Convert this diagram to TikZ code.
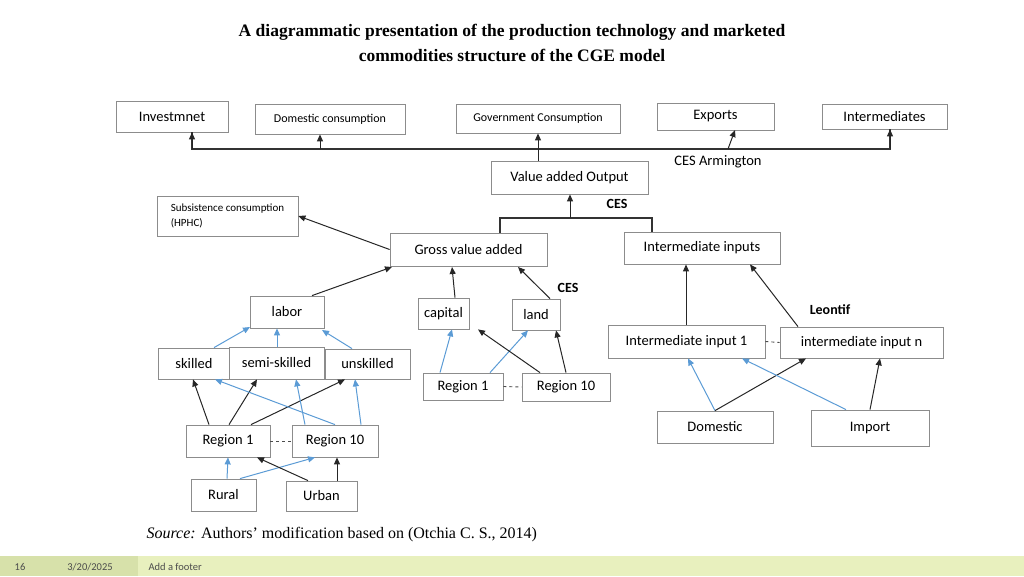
\documentclass[tikz,border=0pt]{standalone}
\usepackage{fontspec}
\setmainfont{Liberation Serif}
\newfontfamily\calib{Carlito}
\usetikzlibrary{arrows.meta}
\tikzset{
 bx/.style={draw=black!45, line width=0.8pt, fill=white, font=\calib\fontsize{14.5}{15}\selectfont, inner sep=0pt, align=left},
 ar/.style={-{Triangle[length=7pt,width=6pt]}, line width=1pt, black!85},
 bl/.style={-{Triangle[length=7pt,width=6pt]}, line width=1pt, color={rgb,255:red,91;green,155;blue,213}},
 dl/.style={dashed, line width=0.9pt, black!70},
 lbl/.style={font=\calib\bfseries\fontsize{14}{15}\selectfont}
}
\newcommand{\bxn}[6]{\node[bx, minimum width=#4-#2, minimum height=#5-#3] (#1) at ({(#2+#4)/2},{(#3+#5)/2}) {#6};}
\begin{document}
\begin{tikzpicture}[x=1pt,y=-1pt]
\useasboundingbox (0,0) rectangle (1024,576);
\fill[color={rgb,255:red,232;green,240;blue,190}] (0,556) rectangle (1024,576);
\fill[color={rgb,255:red,215;green,225;blue,170}] (0,556) rectangle (138,576);
\node[font=\calib\fontsize{10.5}{11}\selectfont, text=black!70] (pg) at (20,567) {16};
\node[font=\calib\fontsize{10.5}{11}\selectfont, text=black!70] (dt) at (90,567) {3/20/2025};
\node[font=\calib\fontsize{10.5}{11}\selectfont, text=black!70, anchor=west] (ft) at (145,567) {Add a footer};
\node[font=\bfseries\fontsize{17.5}{25}\selectfont, align=center] (title) at (512,43) {A diagrammatic presentation of the production technology and marketed\\commodities structure of the CGE model};
\node[font=\fontsize{16}{18}\selectfont, anchor=west] (src) at (143,535) {\textit{Source:} Authors’ modification based on (Otchia C. S., 2014)};
% top row
\bxn{inv}{116}{101}{228}{132}{Investmnet}
\bxn{dom}{255}{104}{405}{134}{\fontsize{12}{13}\selectfont Domestic consumption}
\bxn{gov}{456}{104}{620}{133}{\fontsize{12}{13}\selectfont Government Consumption}
\bxn{exp}{657}{103}{774}{130}{Exports}
\bxn{int}{822}{104}{947}{129}{Intermediates}
\bxn{vao}{491}{161}{648}{194}{Value added Output}
\bxn{sub}{157}{196}{298}{236}{\fontsize{11}{13}\selectfont Subsistence consumption\\\fontsize{11}{13}\selectfont (HPHC)}
\bxn{gva}{390}{233}{547}{266}{Gross value added}
\bxn{ii}{624}{232}{780}{264}{Intermediate inputs}
\node[font=\calib\fontsize{14.5}{15}\selectfont] (arm) at (718,162) {CES Armington};
\node[lbl] (ces1) at (617,204) {CES};
\node[lbl] (ces2) at (568,288) {CES};
\node[lbl] (leon) at (830,310) {Leontif};
\coordinate (bl) at (192,149); \coordinate (br) at (890,149);
\draw[line width=1.2pt, black!80] (inv.south -| bl) |- (br) -- (int.south -| br);
\draw[ar] (bl) -- (inv.south -| bl);
\draw[ar] (320,149) -- ([xshift=-10pt]dom.south);
\draw[ar] (vao.north -| gov.south) -- (gov.south);
\draw[ar] (728,149) -- (735,130);
\draw[ar] (br) -- (int.south -| br);
\coordinate (cb) at (570,218);
\draw[line width=1.2pt, black!80] (gva.north -| 500,0) |- (cb) -| (ii.north -| 652,0);
\draw[ar] (cb) -- (vao.south -| cb);
\draw[ar] (gva.west) -- (sub.east);
% labour block
\bxn{lab}{250}{296}{324}{328}{labor}
\bxn{cap}{418}{298}{469}{329}{capital}
\bxn{lnd}{512}{299}{560}{330}{land}
\draw[ar] (lab.north -| 312,0) -- (392,267);
\draw[ar] (cap.north -| 455,0) -- (452,267);
\draw[ar] (lnd.north -| 550,0) -- (518,267);
\bxn{sk}{158}{348}{230}{379}{skilled}
\bxn{uns}{325}{349}{410}{379}{unskilled}
\bxn{semi}{229}{347}{324}{379}{semi-skilled}
\draw[bl] (sk.north -| 214,0) -- (250,327);
\draw[bl] (semi.north -| 277,0) -- (lab.south -| 277,0);
\draw[bl] (uns.north -| 352,0) -- (322,330);
\bxn{ra}{186}{425}{270}{457}{Region 1}
\bxn{rb}{292}{425}{378}{457}{Region 10}
\draw[dl] (ra.east) -- (rb.west);
\draw[ar] (ra.north -| 209,0) -- (sk.south -| 193,0);
\draw[ar] (ra.north -| 229,0) -- (semi.south -| 257,0);
\draw[ar] (ra.north -| 251,0) -- (uns.south -| 345,0);
\draw[bl] (rb.north -| 335,0) -- (sk.south -| 215,0);
\draw[bl] (rb.north -| 305,0) -- (semi.south -| 296,0);
\draw[bl] (rb.north -| 361,0) -- (uns.south -| 355,0);
\bxn{rur}{191}{479}{256}{511}{Rural}
\bxn{urb}{286}{481}{357}{511}{Urban}
\draw[bl] (rur.north -| 227,0) -- (ra.south -| 228,0);
\draw[bl] (rur.north -| 240,0) -- (rb.south -| 315,0);
\draw[ar] (urb.north -| 308,0) -- (ra.south -| 257,0);
\draw[ar] (urb.north -| 337,0) -- (rb.south -| 337,0);
% capital/land regions
\bxn{rc}{423}{373}{503}{400}{Region 1}
\bxn{rd}{522}{373}{610}{401}{Region 10}
\draw[dl] (rc.east) -- (rd.west);
\draw[bl] (rc.north -| 440,0) -- (cap.south -| 452,0);
\draw[bl] (rc.north -| 490,0) -- (lnd.south -| 528,0);
\draw[ar] (rd.north -| 540,0) -- (cap.south -| 478,0);
\draw[ar] (rd.north -| 566,0) -- (lnd.south -| 556,0);
% intermediate block
\bxn{i1}{608}{325}{765}{358}{Intermediate input 1}
\bxn{in}{780}{327}{943}{358}{intermediate input n}
\draw[dl] (i1.east) -- (in.west);
\draw[ar] (i1.north -| 686,0) -- (ii.south -| 686,0);
\draw[ar] (in.north -| 798,0) -- (ii.south -| 750,0);
\bxn{dm}{657}{411}{773}{443}{Domestic}
\bxn{im}{811}{410}{929}{446}{Import}
\draw[bl] (dm.north -| 715,0) -- (i1.south -| 688,0);
\draw[ar] (dm.north -| 715,0) -- (in.south -| 806,0);
\draw[bl] (im.north -| 846,0) -- (i1.south -| 742,0);
\draw[ar] (im.north -| 870,0) -- (in.south -| 880,0);
\end{tikzpicture}
\end{document}
